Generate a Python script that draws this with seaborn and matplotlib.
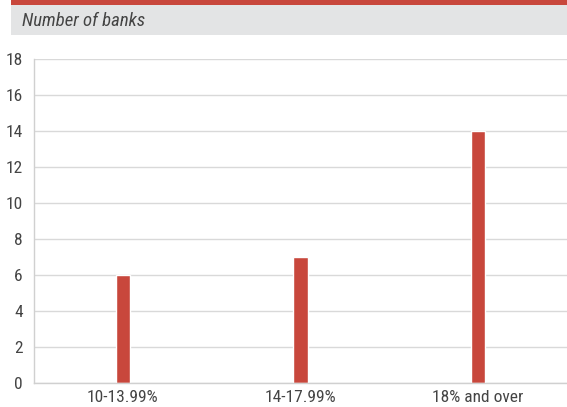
import matplotlib
matplotlib.use("Agg")
import matplotlib.pyplot as plt
from matplotlib import font_manager
from matplotlib.patches import Rectangle
import seaborn as sns
import pandas as pd

categories = ["10-13.99%", "14-17.99%", "18% and over"]
banks = [6, 7, 14]
yticks = [0, 2, 4, 6, 8, 10, 12, 14, 16, 18]

sns.set_style("white")

fonts = font_manager.fontManager.ttflist
names = {f.name for f in fonts}
family, stretch = "Liberation Sans", "normal"
for cand in ["Roboto Condensed", "Liberation Sans Narrow", "Open Sans Condensed"]:
    if cand in names:
        family = cand
        break
else:
    for f in fonts:
        if f.name == "DejaVu Sans" and "ondensed" in f.fname:
            family, stretch = "DejaVu Sans", "condensed"
            break
plt.rcParams["font.family"] = [family, "DejaVu Sans"]
plt.rcParams["font.stretch"] = stretch

W, H = 567, 407
fig = plt.figure(figsize=(W / 100, H / 100), dpi=100)

# header: red strip and grey title band
fig.add_artist(Rectangle((11 / W, 1 - 5 / H), 1 - 11 / W, 5 / H,
                         transform=fig.transFigure, color="#c8473c", lw=0))
fig.add_artist(Rectangle((11 / W, 1 - 35 / H), 1 - 11 / W, 30 / H,
                         transform=fig.transFigure, color="#e3e4e5", lw=0))
fig.text(22 / W, 1 - 21 / H, "Number of banks", style="italic",
         fontsize=13.5, color="#444444", va="center", ha="left")

ax = fig.add_axes([34 / W, 1 - 383 / H, 1 - 34 / W, (383 - 59) / H])
df = pd.DataFrame({"category": categories, "banks": banks})
sns.barplot(data=df, x="category", y="banks", color="#c8473c",
            saturation=1, width=0.08, ax=ax)

ax.set_ylim(0, 18)
ax.set_yticks(yticks)
ax.set_xlim(-0.5, 2.5)
ax.set_xlabel("")
ax.set_ylabel("")
ax.yaxis.grid(True, color="#d9d9d9", lw=1)
ax.set_axisbelow(True)
for s in ["top", "right"]:
    ax.spines[s].set_visible(False)
for s in ["left", "bottom"]:
    ax.spines[s].set_color("#d0d0d0")
    ax.spines[s].set_linewidth(1)
ax.tick_params(axis="both", length=0, labelsize=12.5, colors="#444444", pad=8)
ax.tick_params(axis="x", pad=5)

fig.savefig("out.png", dpi=100)
